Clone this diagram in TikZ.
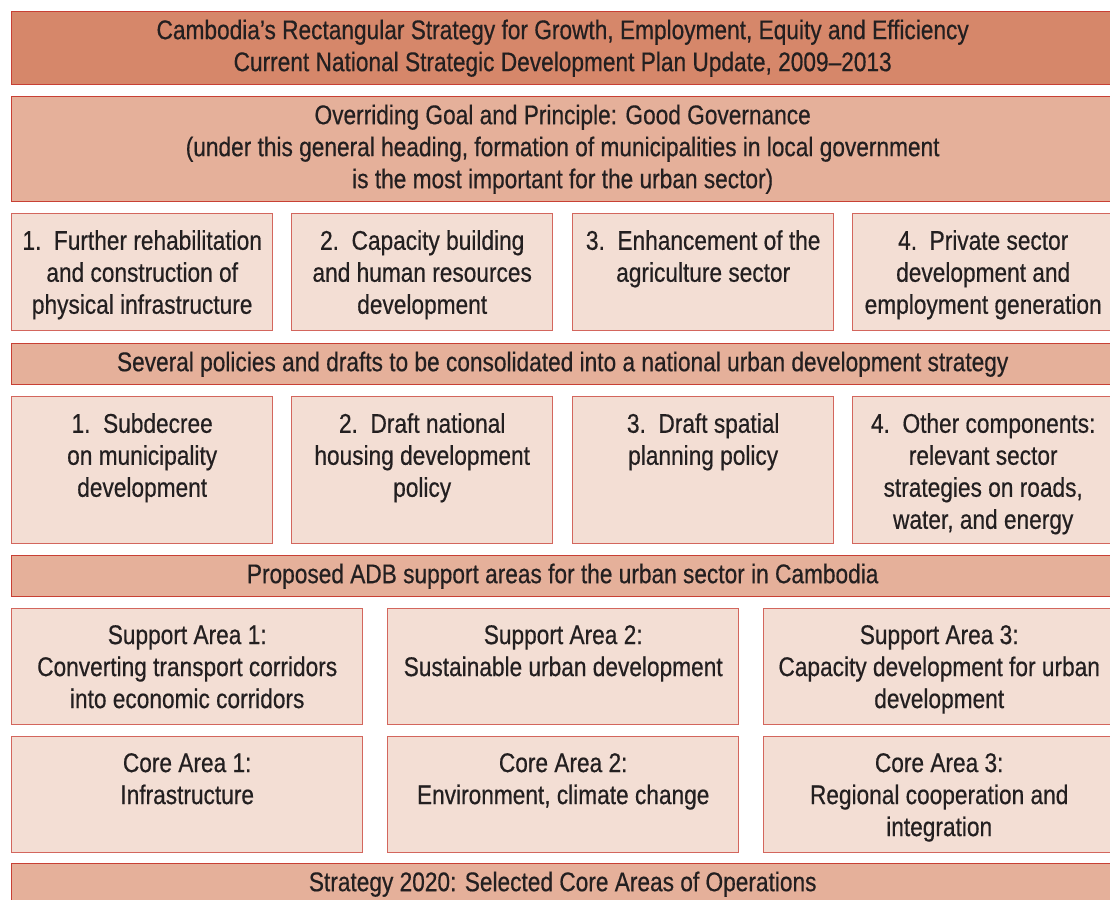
\documentclass[tikz,border=0pt]{standalone}
\usepackage{fontspec}
\setmainfont[FakeStretch=0.84, FakeBold=0.5]{Liberation Sans}
\usetikzlibrary{positioning}
\definecolor{adbdark}{RGB}{214,135,106}
\definecolor{adbmid}{RGB}{229,176,154}
\definecolor{adblight}{RGB}{243,222,212}
\definecolor{adbline}{RGB}{200,64,52}
\definecolor{adbtext}{RGB}{35,31,32}
\newcommand{\cajafont}{\fontsize{27}{32}\selectfont}

\begin{document}
\begin{tikzpicture}[x=1pt, y=-1pt,
                banda/.style={
                    rectangle,
                    draw=adbline,
                    line width=1.4pt,
                    fill=adbmid,
                    minimum width=1102pt,
                    minimum height=41pt,
                    anchor=north west,
                    inner sep=0pt,
                    align=center,
                    text=adbtext,
                    font=\cajafont
                },
                caja/.style={
                    rectangle,
                    draw=adbline!80,
                    line width=1.4pt,
                    fill=adblight,
                    minimum width=261pt,
                    anchor=north west,
                    inner sep=0pt
                },
                cajaancha/.style={
                    caja,
                    minimum width=351pt,
                    minimum height=116pt
                },
                texto/.style={
                    anchor=north,
                    inner sep=0pt,
                    align=center,
                    text=adbtext,
                    font=\cajafont
                }
            ]
                \useasboundingbox (0,0) rectangle (1110,899);
                \clip (0,0) rectangle (1110,899);
                \fill[white] (0,0) rectangle (1110,899);
                % cabecera
                \node[banda, fill=adbdark, minimum height=73pt] (top) at (11,11) {\raisebox{-3pt}{\parbox{1000pt}{\centering Cambodia’s Rectangular Strategy for Growth, Employment, Equity and Efficiency\\Current National Strategic Development Plan Update, 2009–2013}}};
                \node[banda, minimum height=105pt] (goal) at (11,96) {\raisebox{-3pt}{\parbox{1000pt}{\centering Overriding Goal and Principle: Good Governance\\(under this general heading, formation of municipalities in local government\\is the most important for the urban sector)}}};
                % cuatro lados del rectangulo
                \node[caja, minimum height=117pt] (r1) at (11,213) {};
                \node[caja, minimum height=117pt] (r2) at (291,213) {};
                \node[caja, minimum height=117pt] (r3) at (572,213) {};
                \node[caja, minimum height=117pt] (r4) at (852,213) {};
                \node[texto] (r1t) at ([yshift=-17pt]r1.north) {1.\ \ Further rehabilitation\\and construction of\\physical infrastructure};
                \node[texto] (r2t) at ([yshift=-17pt]r2.north) {2.\ \ Capacity building\\and human resources\\development};
                \node[texto] (r3t) at ([yshift=-17pt]r3.north) {3.\ \ Enhancement of the\\agriculture sector};
                \node[texto] (r4t) at ([yshift=-17pt]r4.north) {4.\ \ Private sector\\development and\\employment generation};
                % politicas
                \node[banda] (pol) at (11,343) {\raisebox{-2pt}{Several policies and drafts to be consolidated into a national urban development strategy}};
                \node[caja, minimum height=147pt] (p1) at (11,396) {};
                \node[caja, minimum height=147pt] (p2) at (291,396) {};
                \node[caja, minimum height=147pt] (p3) at (572,396) {};
                \node[caja, minimum height=147pt] (p4) at (852,396) {};
                \node[texto] (p1t) at ([yshift=-17pt]p1.north) {1.\ \ Subdecree\\on municipality\\development};
                \node[texto] (p2t) at ([yshift=-17pt]p2.north) {2.\ \ Draft national\\housing development\\policy};
                \node[texto] (p3t) at ([yshift=-17pt]p3.north) {3.\ \ Draft spatial\\planning policy};
                \node[texto] (p4t) at ([yshift=-17pt]p4.north) {4.\ \ Other components:\\relevant sector\\strategies on roads,\\water, and energy};
                % apoyo ADB
                \node[banda] (adb) at (11,555) {\raisebox{-2pt}{Proposed ADB support areas for the urban sector in Cambodia}};
                \node[cajaancha] (s1) at (11,608) {};
                \node[cajaancha] (s2) at (387,608) {};
                \node[cajaancha] (s3) at (763,608) {};
                \node[texto] (s1t) at ([yshift=-17pt]s1.north) {Support Area 1:\\Converting transport corridors\\into economic corridors};
                \node[texto] (s2t) at ([yshift=-17pt]s2.north) {Support Area 2:\\Sustainable urban development};
                \node[texto] (s3t) at ([yshift=-17pt]s3.north) {Support Area 3:\\Capacity development for urban\\development};
                \node[cajaancha] (c1) at (11,736) {};
                \node[cajaancha] (c2) at (387,736) {};
                \node[cajaancha] (c3) at (763,736) {};
                \node[texto] (c1t) at ([yshift=-17pt]c1.north) {Core Area 1:\\Infrastructure};
                \node[texto] (c2t) at ([yshift=-17pt]c2.north) {Core Area 2:\\Environment, climate change};
                \node[texto] (c3t) at ([yshift=-17pt]c3.north) {Core Area 3:\\Regional cooperation and\\integration};
                \node[banda] (s2020) at (11,863) {\raisebox{-2pt}{Strategy 2020: Selected Core Areas of Operations}};
            \end{tikzpicture}
\end{document}
